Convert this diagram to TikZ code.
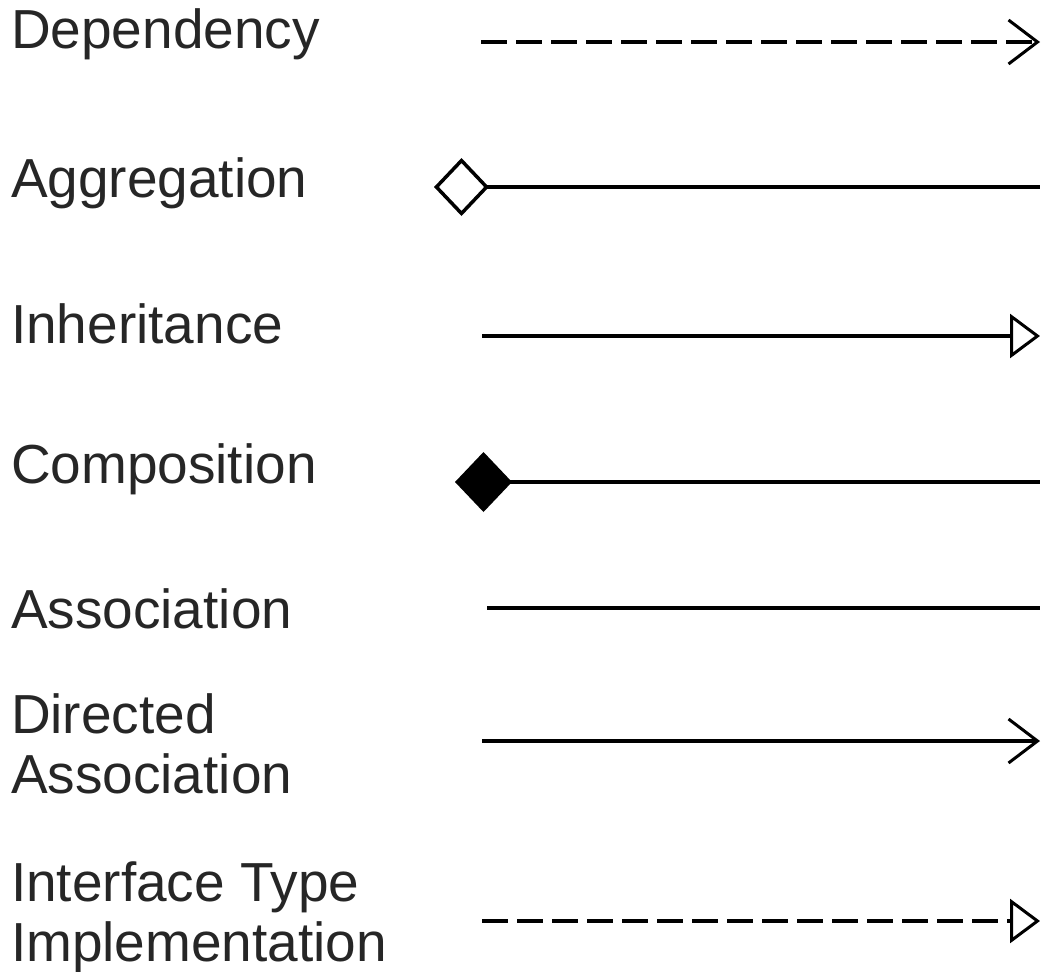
\documentclass[tikz,border=0pt]{standalone}
\usepackage{fontspec}
\setmainfont{Liberation Sans}
\usetikzlibrary{arrows.meta}
\tikzset{
  lbl/.style={inner sep=0pt, outer sep=0pt, anchor=base west, text=black!85,
              font=\fontsize{55}{60}\selectfont},
  conn/.style={line width=3.3pt, black},
  dashconn/.style={conn, dash pattern=on 26pt off 9pt},
  barb/.style={-{Straight Barb[length=29pt,width=44pt,line width=3pt]}},
  hollowtri/.style={-{Triangle[open,length=30pt,width=44pt,line width=3pt]}},
  hollowdia/.style={{Diamond[open,length=55pt,width=58pt,line width=3.5pt]}-},
  filldia/.style={{Diamond[length=57pt,width=60pt]}-},
}
\begin{document}
\begin{tikzpicture}[x=1pt,y=1pt]
\useasboundingbox (0,0) rectangle (1042,-972);
% labels
\node[lbl] (ldep) at (11,-48) {Dependency};
\node[lbl] (lagg) at (11,-197) {Aggregation};
\node[lbl] (linh) at (11,-343) {Inheritance};
\node[lbl] (lcom) at (11,-483) {Composition};
\node[lbl] (lass) at (11,-628) {Association};
\node[lbl] (ldir) at (11,-733) {\vtop{\hbox{Directed}\hbox{Association}}};
\node[lbl] (lint) at (11,-901) {\vtop{\hbox{Interface Type}\hbox{Implementation}}};
% connector end points
\coordinate (depA) at (481,-42);  \coordinate (depB) at (1040,-42);
\coordinate (aggA) at (434,-187); \coordinate (aggB) at (1040,-187);
\coordinate (inhA) at (482,-336); \coordinate (inhB) at (1040,-336);
\coordinate (comA) at (455,-482); \coordinate (comB) at (1040,-482);
\coordinate (assA) at (487,-608); \coordinate (assB) at (1040,-608);
\coordinate (dirA) at (482,-741); \coordinate (dirB) at (1040,-741);
\coordinate (intA) at (482,-921); \coordinate (intB) at (1040,-921);
% connectors
\draw[dashconn, barb] (depA) -- (depB);
\draw[conn, hollowdia] (aggA) -- (aggB);
\draw[conn, hollowtri] (inhA) -- (inhB);
\draw[conn, filldia] (comA) -- (comB);
\draw[conn] (assA) -- (assB);
\draw[conn, barb] (dirA) -- (dirB);
\draw[dashconn, hollowtri] (intA) -- (intB);
\end{tikzpicture}
\end{document}
